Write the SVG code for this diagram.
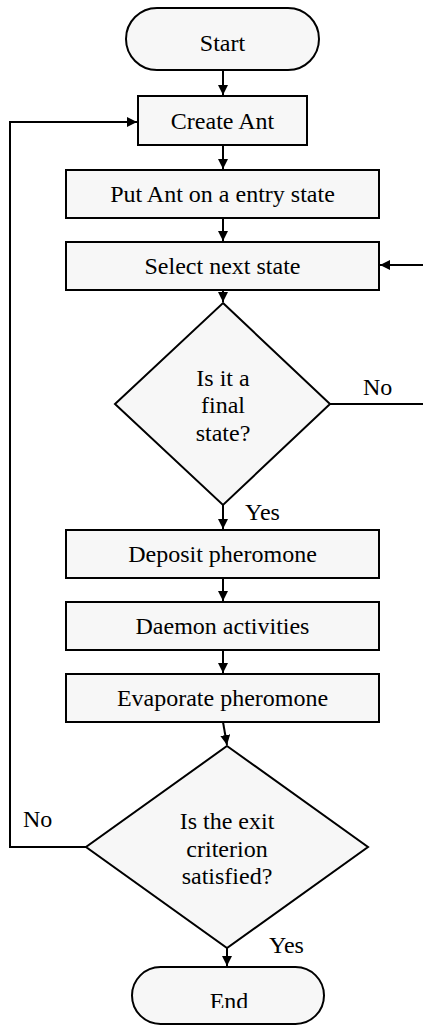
<svg xmlns="http://www.w3.org/2000/svg" width="423" height="1026" viewBox="0 0 423 1026">
<style>
.n{fill:#f7f7f7;stroke:#000;stroke-width:2}
.t{font-family:"Liberation Serif","Times New Roman",serif;font-size:24px;fill:#000;text-anchor:middle}
.l{font-family:"Liberation Serif","Times New Roman",serif;font-size:24px;fill:#000}
.c{fill:none;stroke:#000;stroke-width:2}
</style>
<defs>
<marker id="ah" viewBox="0 0 10 10" refX="10" refY="5" markerWidth="10" markerHeight="10" markerUnits="userSpaceOnUse" orient="auto">
<path d="M0,0 L10,5 L0,10 Z" fill="#000"/>
</marker>
<clipPath id="endclip"><rect x="0" y="0" width="423" height="1008"/></clipPath>
</defs>
<g id="connectors">
<path class="c" d="M223,70 V95" marker-end="url(#ah)"/>
<path class="c" d="M223,145 V169" marker-end="url(#ah)"/>
<path class="c" d="M223,218 V241" marker-end="url(#ah)"/>
<path class="c" d="M223,290 V302" marker-end="url(#ah)"/>
<path class="c" d="M223,505 V529" marker-end="url(#ah)"/>
<path class="c" d="M223,578 V601" marker-end="url(#ah)"/>
<path class="c" d="M223,650 V673" marker-end="url(#ah)"/>
<path class="c" d="M223,722 L227,745" marker-end="url(#ah)"/>
<path class="c" d="M227,948 V966" marker-end="url(#ah)"/>
<path class="c" d="M330,404 H425 V265 H380" marker-end="url(#ah)"/>
<path class="c" d="M86,847 H10 V122 H137" marker-end="url(#ah)"/>
<text class="l" x="363" y="395">No</text>
<text class="l" x="245" y="520">Yes</text>
<text class="l" x="23" y="827">No</text>
<text class="l" x="269" y="953">Yes</text>
</g>
<g id="start">
<rect class="n" x="126" y="8" width="193" height="62" rx="31" ry="31"/>
<text class="t" x="222.5" y="51">Start</text>
</g>
<g id="create-ant">
<rect class="n" x="138" y="96" width="169" height="49"/>
<text class="t" x="222.5" y="129">Create Ant</text>
</g>
<g id="put-ant">
<rect class="n" x="66" y="170" width="313" height="48"/>
<text class="t" x="222.5" y="202">Put Ant on a entry state</text>
</g>
<g id="select-next">
<rect class="n" x="66" y="242" width="313" height="48"/>
<text class="t" x="222.5" y="274">Select next state</text>
</g>
<g id="final-state">
<path class="n" d="M223,303 L330,404 L223,505 L115,404 Z"/>
<text class="t" x="223" y="386">Is it a</text>
<text class="t" x="223" y="413">final</text>
<text class="t" x="223" y="441">state?</text>
</g>
<g id="deposit">
<rect class="n" x="66" y="530" width="313" height="48"/>
<text class="t" x="222.5" y="562">Deposit pheromone</text>
</g>
<g id="daemon">
<rect class="n" x="66" y="602" width="313" height="48"/>
<text class="t" x="222.5" y="634">Daemon activities</text>
</g>
<g id="evaporate">
<rect class="n" x="66" y="674" width="313" height="48"/>
<text class="t" x="222.5" y="706">Evaporate pheromone</text>
</g>
<g id="exit-criterion">
<path class="n" d="M227,746 L368,847 L227,948 L86,847 Z"/>
<text class="t" x="227" y="829">Is the exit</text>
<text class="t" x="227" y="857">criterion</text>
<text class="t" x="227" y="884">satisfied?</text>
</g>
<g id="end">
<rect class="n" x="132" y="967" width="192" height="57" rx="28.5" ry="28.5"/>
<text class="t" x="229" y="1009" clip-path="url(#endclip)">End</text>
</g>
</svg>
